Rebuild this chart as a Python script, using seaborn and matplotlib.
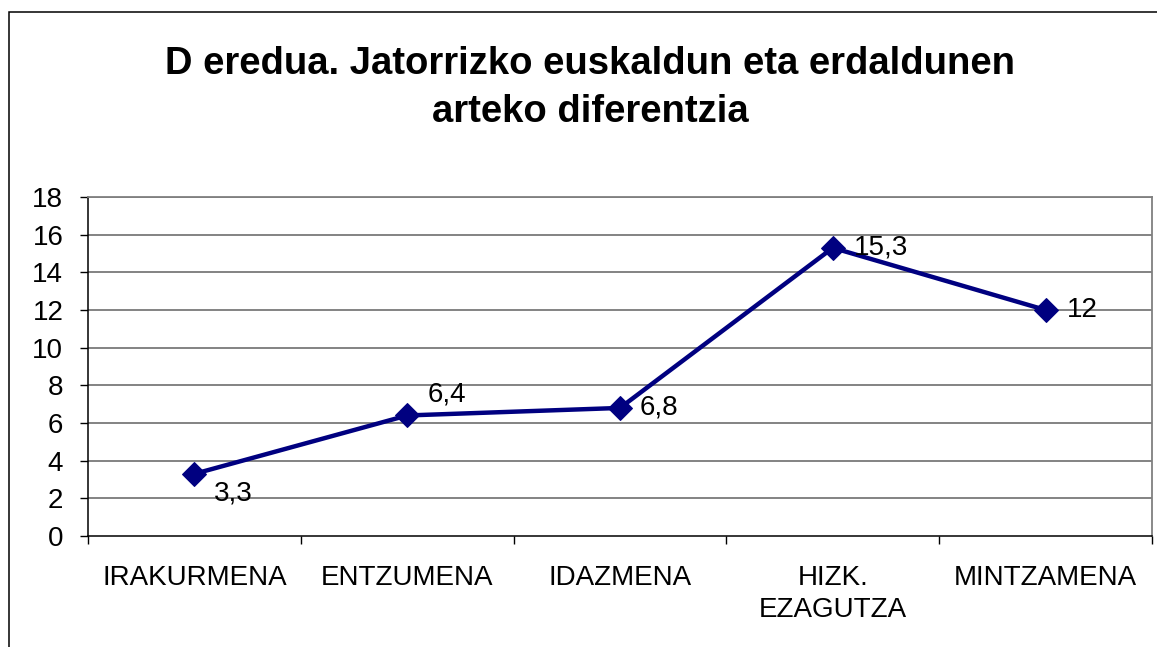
import matplotlib
matplotlib.use("Agg")
import matplotlib.pyplot as plt
import seaborn as sns
import pandas as pd
from matplotlib.patches import Rectangle

categories = ["IRAKURMENA", "ENTZUMENA", "IDAZMENA", "HIZK.\nEZAGUTZA", "MINTZAMENA"]
values = [3.3, 6.4, 6.8, 15.3, 12.0]
value_labels = ["3,3", "6,4", "6,8", "15,3", "12"]
y_ticks = [0, 2, 4, 6, 8, 10, 12, 14, 16, 18]
title_text = "D eredua. Jatorrizko euskaldun eta erdaldunen\narteko diferentzia"

sns.set_theme(style="white")
plt.rcParams["font.family"] = ["Liberation Sans", "DejaVu Sans"]

W, H = 1157, 647
fig = plt.figure(figsize=(W / 100, H / 100), dpi=100)
fig.patch.set_facecolor("white")

left, right, top, bottom = 88, 1152, 197, 536
ax = fig.add_axes([left / W, 1 - bottom / H, (right - left) / W, (bottom - top) / H])
ax.set_facecolor("white")

df = pd.DataFrame({"pos": range(len(categories)), "value": values})

# horizontal grid
for t in y_ticks[1:]:
    ax.axhline(t, color="#7a7a7a", lw=1.3, zorder=1)

sns.lineplot(data=df, x="pos", y="value", ax=ax, color="#000080", linewidth=3.2,
             marker="D", markersize=12, markeredgecolor="#000080",
             markerfacecolor="#000080", sort=False, zorder=3)

# value labels
offsets = [(14, -14), (15, 15), (14, 0), (15, 0), (15, 0)]
for i, (v, lab, off) in enumerate(zip(values, value_labels, offsets)):
    ax.annotate(lab, xy=(i, v), xytext=off, textcoords="offset points",
                ha="left", va="center", fontsize=20, color="black", zorder=4)

ax.set_xlim(-0.5, len(categories) - 0.5)
ax.set_ylim(0, 18)
ax.set_yticks(y_ticks)
ax.set_yticklabels([str(t) for t in y_ticks], fontsize=20)
ax.set_xticks(range(len(categories)))
ax.set_xticklabels(categories, fontsize=20, linespacing=1.3)
ax.set_xticks([i - 0.5 for i in range(len(categories) + 1)], minor=True)
ax.tick_params(axis="x", which="major", length=0, pad=21, colors="black")
ax.tick_params(axis="x", which="minor", length=5.8, width=1.0, color="black", direction="out", bottom=True)
ax.tick_params(axis="y", which="major", length=5.8, width=1.0, color="black", direction="out",
               left=True, pad=12, labelcolor="black")
ax.set_xlabel("")
ax.set_ylabel("")

for s in ["left", "bottom"]:
    ax.spines[s].set_color("black")
    ax.spines[s].set_linewidth(1.1)
for s in ["top", "right"]:
    ax.spines[s].set_color("#808080")
    ax.spines[s].set_linewidth(1.3)

fig.text(590 / W, 1 - 46 / H, title_text, ha="center", va="top", fontsize=27.5,
         fontweight="bold", color="black", linespacing=1.42)

# chart frame
fig.patches.append(Rectangle((9 / W, -0.1), 1.2, 1.1 - 11.5 / H, transform=fig.transFigure,
                             fill=False, edgecolor="black", lw=1.1, clip_on=False))

fig.savefig("out.png", dpi=100, facecolor="white")
